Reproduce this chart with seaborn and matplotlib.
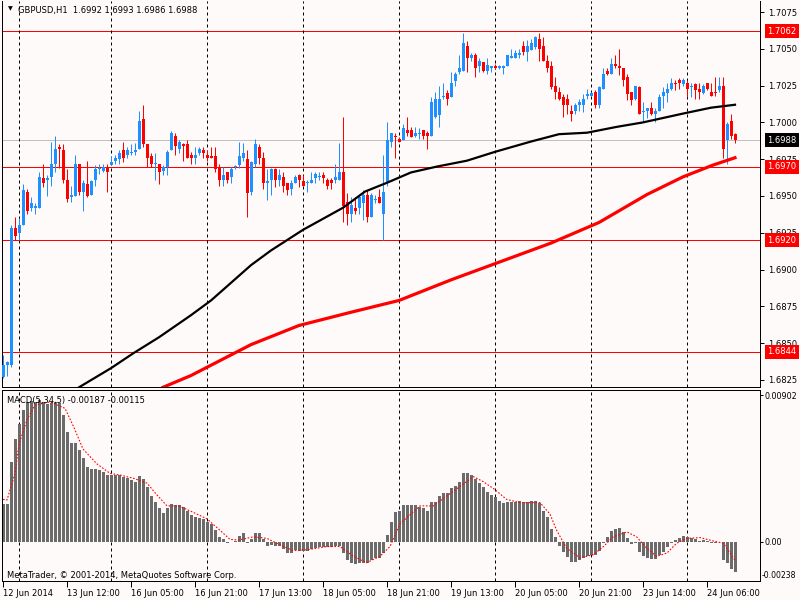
import numpy as np
import pandas as pd
import matplotlib
matplotlib.use("Agg")
import matplotlib.pyplot as plt
import seaborn as sns
from matplotlib.transforms import blended_transform_factory

# ---------------- data ----------------
symbol_title = "GBPUSD,H1  1.6992 1.6993 1.6986 1.6988"
macd_title = "MACD(5,34,5) -0.00187 -0.00115"
copyright_text = "MetaTrader, \u00a9 2001-2014, MetaQuotes Software Corp."

opens = [
1.6827,1.6835,1.6835,1.6928,1.6925,1.6930,1.6953,1.6942,1.6942,1.6942,
1.6962,1.6961,1.6963,1.6972,1.6983,1.6981,1.6961,1.6949,1.6950,1.6972,
1.6953,1.6958,1.6951,1.6961,1.6968,1.6967,1.6970,1.6971,1.6974,1.6975,
1.6981,1.6978,1.6979,1.6980,1.6982,1.7002,1.6985,1.6977,1.6972,1.6972,
1.6967,1.6970,1.6981,1.6991,1.6982,1.6985,1.6985,1.6978,1.6976,1.6979,
1.6981,1.6978,1.6977,1.6977,1.6970,1.6961,1.6966,1.6963,1.6970,1.6971,
1.6976,1.6975,1.6953,1.6972,1.6983,1.6976,1.6959,1.6961,1.6968,1.6961,
1.6963,1.6959,1.6955,1.6959,1.6964,1.6960,1.6959,1.6959,1.6962,1.6963,
1.6964,1.6961,1.6961,1.6961,1.6961,1.6966,1.6946,1.6938,1.6942,1.6942,
1.6945,1.6951,1.6936,1.6947,1.6949,1.6938,1.6959,1.6987,1.6991,1.6989,
1.6988,1.6995,1.6995,1.6991,1.6992,1.6995,1.6993,1.6991,1.7004,1.7005,
1.7017,1.7020,1.7017,1.7028,1.7034,1.7035,1.7052,1.7044,1.7046,1.7038,
1.7041,1.7035,1.7037,1.7038,1.7037,1.7037,1.7038,1.7044,1.7044,1.7046,
1.7052,1.7048,1.7049,1.7051,1.7057,1.7052,1.7042,1.7038,1.7025,1.7021,
1.7017,1.7016,1.7008,1.7008,1.7012,1.7012,1.7018,1.7018,1.7021,1.7012,
1.7023,1.7035,1.7033,1.7040,1.7038,1.7037,1.7031,1.7021,1.7016,1.7024,
1.7007,1.7008,1.7010,1.7006,1.7008,1.7018,1.7020,1.7023,1.7027,1.7029,
1.7026,1.7027,1.7024,1.7026,1.7023,1.7020,1.7027,1.7021,1.7021,1.7022,
1.7025,1.6988,1.7001,1.6992]

highs = [
1.6842,1.6838,1.6930,1.6936,1.6935,1.6958,1.6955,1.6949,1.6945,1.6966,
1.6972,1.6964,1.6987,1.6991,1.6985,1.6985,1.6968,1.6957,1.6978,1.6972,
1.6961,1.6974,1.6961,1.6971,1.6972,1.6972,1.6972,1.6977,1.6978,1.6981,
1.6987,1.6983,1.6985,1.6986,1.7008,1.7012,1.6985,1.6979,1.6979,1.6972,
1.6971,1.6981,1.6994,1.6993,1.6988,1.6986,1.6988,1.6980,1.6983,1.6983,
1.6983,1.6981,1.6983,1.6983,1.6972,1.6970,1.6966,1.6970,1.6971,1.6987,
1.6986,1.6981,1.6974,1.6989,1.6985,1.6980,1.6968,1.6969,1.6969,1.6968,
1.6966,1.6959,1.6961,1.6964,1.6965,1.6964,1.6961,1.6966,1.6966,1.6966,
1.6966,1.6962,1.6962,1.6972,1.6986,1.7004,1.6952,1.6949,1.6949,1.6951,
1.6954,1.6954,1.6952,1.6951,1.6955,1.6978,1.7000,1.6993,1.6993,1.6990,
1.6999,1.7004,1.6997,1.6997,1.6996,1.6995,1.6994,1.7017,1.7021,1.7025,
1.7027,1.7022,1.7034,1.7034,1.7046,1.7061,1.7055,1.7047,1.7047,1.7044,
1.7041,1.7044,1.7038,1.7040,1.7039,1.7039,1.7046,1.7050,1.7049,1.7050,
1.7055,1.7056,1.7057,1.7059,1.7061,1.7058,1.7046,1.7042,1.7031,1.7024,
1.7019,1.7019,1.7012,1.7013,1.7016,1.7019,1.7023,1.7021,1.7022,1.7025,
1.7037,1.7037,1.7044,1.7046,1.7050,1.7037,1.7033,1.7021,1.7025,1.7025,
1.7014,1.7010,1.7014,1.7010,1.7019,1.7024,1.7027,1.7030,1.7029,1.7030,
1.7030,1.7029,1.7027,1.7027,1.7027,1.7026,1.7027,1.7027,1.7031,1.7031,
1.7031,1.7000,1.7006,1.6993]

lows = [
1.6826,1.6828,1.6834,1.6920,1.6920,1.6930,1.6938,1.6940,1.6938,1.6942,
1.6956,1.6950,1.6957,1.6966,1.6969,1.6959,1.6946,1.6946,1.6950,1.6951,
1.6940,1.6949,1.6951,1.6957,1.6965,1.6966,1.6953,1.6971,1.6972,1.6972,
1.6973,1.6976,1.6978,1.6978,1.6982,1.6983,1.6970,1.6970,1.6961,1.6958,
1.6964,1.6964,1.6981,1.6978,1.6979,1.6974,1.6976,1.6972,1.6972,1.6978,
1.6976,1.6974,1.6976,1.6966,1.6957,1.6957,1.6959,1.6959,1.6968,1.6969,
1.6974,1.6936,1.6951,1.6970,1.6972,1.6955,1.6947,1.6951,1.6956,1.6957,
1.6953,1.6951,1.6951,1.6959,1.6956,1.6957,1.6953,1.6959,1.6959,1.6961,
1.6959,1.6955,1.6955,1.6959,1.6961,1.6932,1.6930,1.6932,1.6938,1.6938,
1.6934,1.6932,1.6936,1.6945,1.6945,1.6920,1.6957,1.6983,1.6976,1.6987,
1.6988,1.6991,1.6990,1.6990,1.6989,1.6989,1.6982,1.6991,1.7003,1.6997,
1.7016,1.7012,1.7017,1.7025,1.7033,1.7035,1.7034,1.7042,1.7031,1.7034,
1.7034,1.7033,1.7034,1.7036,1.7036,1.7033,1.7038,1.7044,1.7044,1.7044,
1.7046,1.7042,1.7049,1.7050,1.7042,1.7042,1.7034,1.7023,1.7016,1.7015,
1.7004,1.7006,1.7001,1.7006,1.7008,1.7007,1.7016,1.7018,1.7010,1.7010,
1.7023,1.7032,1.7033,1.7037,1.7032,1.7025,1.7015,1.7012,1.7015,1.7006,
1.7000,1.7003,1.7005,1.7000,1.7008,1.7010,1.7014,1.7022,1.7022,1.7023,
1.7025,1.7017,1.7017,1.7016,1.7016,1.7019,1.7022,1.7018,1.7018,1.7021,
1.6976,1.6972,1.6989,1.6986]

closes = [
1.6835,1.6837,1.6928,1.6923,1.6930,1.6954,1.6940,1.6945,1.6943,1.6963,
1.6959,1.6962,1.6972,1.6982,1.6982,1.6961,1.6948,1.6951,1.6972,1.6953,
1.6959,1.6950,1.6960,1.6968,1.6969,1.6970,1.6966,1.6973,1.6976,1.6979,
1.6976,1.6981,1.6980,1.6981,1.7001,1.6985,1.6976,1.6972,1.6972,1.6966,
1.6970,1.6980,1.6993,1.6984,1.6987,1.6984,1.6976,1.6976,1.6978,1.6982,
1.6979,1.6976,1.6976,1.6968,1.6961,1.6964,1.6961,1.6968,1.6970,1.6977,
1.6979,1.6952,1.6973,1.6985,1.6976,1.6959,1.6960,1.6968,1.6961,1.6964,
1.6957,1.6954,1.6959,1.6963,1.6961,1.6957,1.6959,1.6961,1.6965,1.6963,
1.6962,1.6957,1.6959,1.6963,1.6966,1.6943,1.6938,1.6944,1.6940,1.6949,
1.6951,1.6936,1.6951,1.6947,1.6945,1.6953,1.6988,1.6993,1.6990,1.6987,
1.6996,1.6993,1.6990,1.6993,1.6993,1.6991,1.6991,1.7014,1.7016,1.7016,
1.7018,1.7016,1.7027,1.7033,1.7037,1.7054,1.7044,1.7046,1.7037,1.7042,
1.7035,1.7039,1.7038,1.7037,1.7038,1.7038,1.7046,1.7045,1.7047,1.7047,
1.7048,1.7052,1.7054,1.7058,1.7050,1.7042,1.7037,1.7024,1.7021,1.7016,
1.7012,1.7012,1.7006,1.7012,1.7014,1.7016,1.7019,1.7020,1.7012,1.7024,
1.7033,1.7033,1.7040,1.7038,1.7037,1.7029,1.7019,1.7015,1.7025,1.7006,
1.7008,1.7010,1.7006,1.7008,1.7017,1.7021,1.7023,1.7027,1.7026,1.7027,
1.7029,1.7023,1.7025,1.7022,1.7021,1.7025,1.7023,1.7018,1.7020,1.7025,
1.6982,1.6999,1.6991,1.6988]

macd_hist = [
0.00232,0.00232,0.00492,0.00629,0.00724,0.00810,0.00861,0.00867,0.00861,0.00871,
0.00861,0.00847,0.00851,0.00861,0.00855,0.00779,0.00677,0.00609,0.00609,0.00564,
0.00513,0.00457,0.00447,0.00445,0.00441,0.00431,0.00410,0.00410,0.00410,0.00410,
0.00400,0.00394,0.00379,0.00369,0.00404,0.00383,0.00338,0.00281,0.00246,0.00205,
0.00178,0.00205,0.00232,0.00226,0.00226,0.00215,0.00191,0.00164,0.00154,0.00148,
0.00137,0.00123,0.00107,0.00072,0.00031,0.00014,-0.00006,-0.00004,0.00004,0.00037,
0.00051,-0.00010,0.00014,0.00051,0.00051,0.00014,-0.00025,-0.00020,-0.00027,-0.00027,
-0.00047,-0.00072,-0.00068,-0.00051,-0.00055,-0.00055,-0.00055,-0.00047,-0.00041,-0.00035,
-0.00031,-0.00031,-0.00031,-0.00027,-0.00027,-0.00068,-0.00113,-0.00133,-0.00139,-0.00133,
-0.00129,-0.00129,-0.00113,-0.00103,-0.00103,-0.00072,0.00041,0.00123,0.00185,0.00191,
0.00226,0.00226,0.00226,0.00226,0.00211,0.00205,0.00189,0.00246,0.00246,0.00281,
0.00301,0.00301,0.00328,0.00342,0.00369,0.00420,0.00420,0.00410,0.00383,0.00363,
0.00334,0.00308,0.00287,0.00273,0.00252,0.00240,0.00246,0.00246,0.00246,0.00250,
0.00246,0.00246,0.00250,0.00252,0.00240,0.00191,0.00150,0.00078,0.00027,-0.00025,
-0.00062,-0.00096,-0.00123,-0.00123,-0.00113,-0.00103,-0.00088,-0.00082,-0.00082,-0.00055,
-0.00006,0.00031,0.00066,0.00076,0.00082,0.00062,0.00025,-0.00014,-0.00010,-0.00062,
-0.00088,-0.00103,-0.00109,-0.00109,-0.00082,-0.00062,-0.00035,-0.00010,0.00010,0.00021,
0.00037,0.00027,0.00021,0.00014,0.00006,0.00010,0.00004,-0.00006,-0.00006,0.00000,
-0.00113,-0.00129,-0.00168,-0.00187]

signal_idx = [0, 1, 3, 4, 6, 8, 11.75, 15.5, 17.6, 20, 23.4, 26.75, 29.25, 32.6, 36,
              38.4, 41, 44, 47.6, 51, 54.25, 56.75, 59, 62.6, 66, 69.25, 72.6, 76, 81,
              84.25, 87.6, 90.9, 94.25, 96.75, 99.25, 104.25, 107.6, 110.9, 114.25,
              117.6, 120, 123, 125.9, 129.25, 134.25, 136.75, 138.4, 140.9, 144.25,
              147.6, 150.1, 152.6, 156, 158.4, 160.9, 163.4, 166, 168.4, 170.9,
              174.25, 177.6, 180.1, 182.6, 183]
signal_val = [0.0026, 0.00256, 0.0042, 0.0060, 0.0075, 0.0084, 0.0086, 0.0082, 0.0071,
              0.0057, 0.0048, 0.0042, 0.0041, 0.0039, 0.0036, 0.0029, 0.0022, 0.0022,
              0.0018, 0.0014, 0.0007, 0.00014, 0.0001, 0.0003, 0.0002, -0.0002,
              -0.00055, -0.0005, -0.0003, -0.0003, -0.0009, -0.0013, -0.0009, -0.0003,
              0.0011, 0.0022, 0.0022, 0.0028, 0.0034, 0.0040, 0.0037, 0.0032, 0.0026,
              0.0024, 0.0024, 0.0017, 0.0007, -0.0004, -0.0010, -0.0008, -0.0003,
              0.0003, 0.0006, 0.0003, -0.0004, -0.0009, -0.0007, -0.0001, 0.0002,
              0.00025, 0.00004, -0.0001, -0.0010, -0.00115]

ma_black_idx = [19, 27, 32.5, 39, 47, 52, 62, 67, 75, 85, 90.5, 96, 102, 108.5, 116,
                123, 132, 139, 146, 153.5, 160, 170, 177, 183]
ma_black_val = [1.6820, 1.6833, 1.6843, 1.6854, 1.6869, 1.6879, 1.6903, 1.6913, 1.6927,
                1.6942, 1.6953, 1.6959, 1.6966, 1.6970, 1.6974, 1.6980, 1.6987, 1.6992,
                1.6993, 1.6997, 1.7000, 1.7006, 1.7010, 1.7012]

ma_red_idx = [40, 47, 62, 74, 87, 99, 112, 124, 137, 149, 161, 170, 177.5, 183]
ma_red_val = [1.6820, 1.6828, 1.6849, 1.6862, 1.6871, 1.6879, 1.6893, 1.6905, 1.6918,
              1.6932, 1.6951, 1.6963, 1.6971, 1.6976]

level_prices = [1.7062, 1.6970, 1.6920, 1.6844]
level_labels = ["1.7062", "1.6970", "1.6920", "1.6844"]
bid_price = 1.6988
bid_label = "1.6988"

separator_idx = [4, 27, 51, 75, 99, 123, 147, 171]

price_ticks = [1.6825, 1.6850, 1.6875, 1.6900, 1.6925, 1.6950, 1.6975, 1.7000,
               1.7025, 1.7050, 1.7075]
price_tick_labels = ["1.6825", "1.6850", "1.6875", "1.6900", "1.6925", "1.6950",
                     "1.6975", "1.7000", "1.7025", "1.7050", "1.7075"]
macd_ticks = [0.00902, 0.0]
macd_tick_labels = ["0.00902", "0.00"]
macd_min_label = "-0.00238"
macd_min_value = -0.00238

xtick_idx = [0, 16, 32, 48, 64, 80, 96, 112, 128, 144, 160, 176]
xtick_labels = ["12 Jun 2014", "13 Jun 12:00", "16 Jun 05:00", "16 Jun 21:00",
                "17 Jun 13:00", "18 Jun 05:00", "18 Jun 21:00", "19 Jun 13:00",
                "20 Jun 05:00", "20 Jun 21:00", "23 Jun 14:00", "24 Jun 06:00"]

# ---------------- style ----------------
BG = "#FFFAFA"
BULL = "#1E90FF"
BEAR = "#FF0000"
FS = 6
PX = 0.72  # one pixel in points at dpi 100

plt.rcParams["font.family"] = ["DejaVu Sans"]

df = pd.DataFrame({"idx": np.arange(len(opens)), "open": opens, "high": highs,
                   "low": lows, "close": closes, "macd": macd_hist})
df["bull"] = df["close"] >= df["open"]
df["color"] = np.where(df["bull"], BULL, BEAR)
df["body_lo"] = df[["open", "close"]].min(axis=1)
df["body_h"] = (df["open"] - df["close"]).abs().clip(lower=0.00007)

fig = plt.figure(figsize=(8, 6), dpi=100, facecolor=BG)
ax = fig.add_axes([2 / 800, 1 - 387 / 600, 758 / 800, 386 / 600], facecolor=BG)
axm = fig.add_axes([2 / 800, 19 / 600, 758 / 800, 191 / 600], facecolor=BG)

xlim = (-0.25, 189.25)

# ---- main price panel ----
ax.axhline(bid_price, color="#C0C0C0", lw=PX, zorder=1)
for p in level_prices:
    ax.axhline(p, color="#FF0000", lw=PX, zorder=1)
for s in separator_idx:
    ax.axvline(s, color="black", lw=PX, dashes=(3, 3), zorder=1)
    axm.axvline(s, color="black", lw=PX, dashes=(3, 3), zorder=1)

ax.vlines(df["idx"], df["low"], df["high"], colors=df["color"], lw=PX, zorder=2)
ax.bar(df["idx"], df["body_h"], bottom=df["body_lo"], width=0.75,
       color=df["color"], linewidth=0, zorder=3)

sns.lineplot(data=pd.DataFrame({"idx": ma_black_idx, "val": ma_black_val}),
             x="idx", y="val", ax=ax, color="black", lw=1.6, legend=False,
             zorder=4)
sns.lineplot(data=pd.DataFrame({"idx": ma_red_idx, "val": ma_red_val}),
             x="idx", y="val", ax=ax, color="#FF0000", lw=2.3, legend=False,
             zorder=4)

ax.set_xlim(*xlim)
ax.set_ylim(1.68202, 1.70825)
ax.set_xlabel("")
ax.set_ylabel("")
ax.set_xticks([])
ax.yaxis.tick_right()
ax.set_yticks(price_ticks)
ax.set_yticklabels(price_tick_labels)
ax.tick_params(axis="y", which="both", direction="out", length=3, width=PX,
               labelsize=FS, pad=3, colors="black")
for sp in ["left", "right", "bottom"]:
    ax.spines[sp].set_linewidth(PX)
    ax.spines[sp].set_color("black")
ax.spines["top"].set_visible(False)

tr = blended_transform_factory(ax.transAxes, ax.transData)
for p, lab in zip(level_prices, level_labels):
    ax.text(1.0 + 7 / 758, p, lab, transform=tr, color="white", fontsize=FS,
            va="center", ha="left", clip_on=False, zorder=10,
            bbox=dict(boxstyle="square,pad=0.3", fc="#FF0000", ec="none"))
ax.text(1.0 + 7 / 758, bid_price, bid_label, transform=tr, color="white",
        fontsize=FS, va="center", ha="left", clip_on=False, zorder=10,
        bbox=dict(boxstyle="square,pad=0.3", fc="black", ec="none"))

# ---- MACD panel ----
axm.bar(df["idx"], df["macd"], width=0.75, color="#6B6B6B", linewidth=0, zorder=2)
sns.lineplot(data=pd.DataFrame({"idx": signal_idx, "val": signal_val}),
             x="idx", y="val", ax=axm, color="#FF0000", lw=0.8, legend=False,
             zorder=3)
axm.get_lines()[-1].set_dashes((1.5, 1.5))

axm.set_xlim(*xlim)
axm.set_ylim(-0.00242, 0.00933)
axm.set_xlabel("")
axm.set_ylabel("")
axm.yaxis.tick_right()
axm.set_yticks(macd_ticks)
axm.set_yticklabels(macd_tick_labels)
axm.tick_params(axis="y", direction="out", length=2.2, width=PX, labelsize=5.8,
                pad=0.8, colors="black")
axm.set_xticks(xtick_idx)
axm.set_xticklabels(xtick_labels)
axm.tick_params(axis="x", direction="out", length=4, width=PX, labelsize=FS,
                pad=2, colors="black")
for lbl in axm.get_xticklabels():
    lbl.set_ha("left")
for sp in axm.spines.values():
    sp.set_linewidth(PX)
    sp.set_color("black")
trm = blended_transform_factory(axm.transAxes, axm.transData)
axm.text(1.0 + 2 / 758, macd_min_value + 0.00032, macd_min_label, transform=trm,
         fontsize=5.6, va="center", ha="left", clip_on=False, color="black")

# ---- texts ----
fig.text(10 / 800, 1 - 9 / 600, "\u25bc", fontsize=4.5, ha="center", va="center",
         color="black")
fig.text(18 / 800, 1 - 10 / 600, symbol_title, fontsize=FS, ha="left",
         va="center", color="black")
fig.text(7 / 800, 1 - 400 / 600, macd_title, fontsize=FS, ha="left",
         va="center", color="black")
fig.text(7 / 800, 1 - 575 / 600, copyright_text, fontsize=FS, ha="left",
         va="center", color="black")

fig.savefig("out.png", dpi=100, facecolor=BG)
